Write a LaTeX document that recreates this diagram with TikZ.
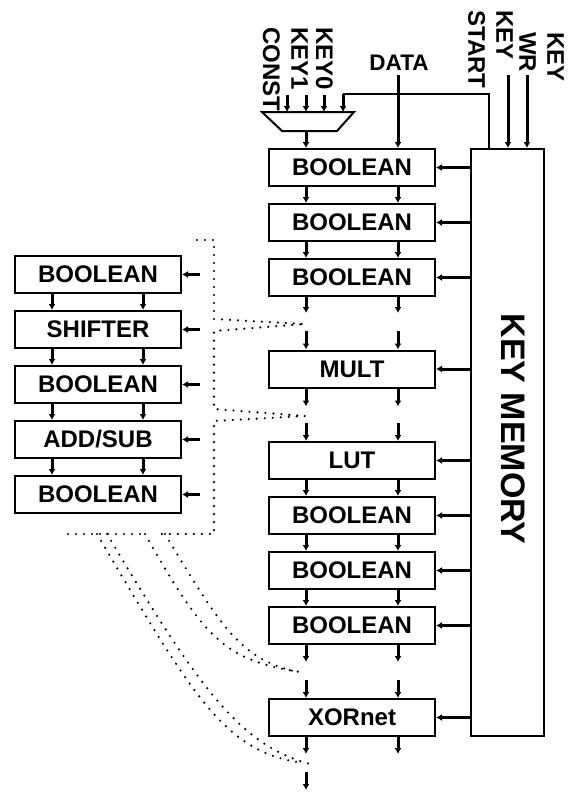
\documentclass[tikz,border=0pt]{standalone}
\usepackage{fontspec}
\setmainfont{Liberation Sans}
\usetikzlibrary{arrows.meta}
\begin{document}
\begin{tikzpicture}[x=1pt,y=-1pt,
  box/.style={draw, line width=2pt, minimum width=166pt, minimum height=37pt, inner sep=0pt,
    font=\bfseries\fontsize{24}{28}\selectfont},
  arr/.style={line width=3pt, -{Latex[length=6pt,width=7pt]}},
  thin/.style={line width=2.2pt},
  dots/.style={line width=2.4pt, line cap=round, dash pattern=on 0pt off 8pt},
  vlbl/.style={font=\bfseries\fontsize{24}{28}\selectfont, inner sep=0pt, rotate=-90,
    anchor=north west, align=left}
]
\useasboundingbox (0,0) rectangle (571,792);

% main column
\node[box] (b1) at (352,167.5) {BOOLEAN};
\node[box] (b2) at (352,222.5) {BOOLEAN};
\node[box] (b3) at (352,277.5) {BOOLEAN};
\node[box] (mult) at (352,369) {MULT};
\node[box] (lut) at (352,460.5) {LUT};
\node[box] (b4) at (352,515.5) {BOOLEAN};
\node[box] (b5) at (352,570.5) {BOOLEAN};
\node[box] (b6) at (352,625.5) {BOOLEAN};
\node[box] (xor) at (352,717.5) {XORnet};

% key memory
\node[draw, line width=2pt, minimum width=73pt, minimum height=587pt, inner sep=0pt] (km) at (507.5,442.5) {};
\node[font=\bfseries\fontsize{34}{40}\selectfont, rotate=-90, inner sep=0pt] (kmlabel) at (513.5,429) {KEY MEMORY};

% left column
\node[box] (l1) at (98,274.5) {BOOLEAN};
\node[box] (l2) at (98,329.5) {SHIFTER};
\node[box] (l3) at (98,384.5) {BOOLEAN};
\node[box] (l4) at (98,439.5) {ADD/SUB};
\node[box] (l5) at (98,494.5) {BOOLEAN};

% top labels
\node[vlbl] (lconst) at (280,27) {CONST};
\node[vlbl] (lkey1) at (308,27) {KEY1};
\node[vlbl] (lkey0) at (333,27) {KEY0};
\node[vlbl] (lkstart) at (513,10) {KEY\\START};
\node[vlbl] (lkwr) at (564,32) {KEY\\WR};
\node[font=\bfseries\fontsize{22.5}{26}\selectfont, inner sep=0pt] (ldata) at (399,62.5) {DATA};

% multiplexer
\draw[line width=2pt] (262,112) -- (354,112) -- (337,131) -- (282,131) -- cycle;
\coordinate (mi1t) at (287,95);  \coordinate (mi1) at (287,112);
\coordinate (mi2t) at (306,95);  \coordinate (mi2) at (306,112);
\coordinate (mi3t) at (324,95);  \coordinate (mi3) at (324,112);
\coordinate (mi4t) at (343,94);  \coordinate (mi4) at (343,112);
\coordinate (mout) at (306,131);
\draw[arr] (mi1t) -- (mi1);
\draw[arr] (mi2t) -- (mi2);
\draw[arr] (mi3t) -- (mi3);
\coordinate (fbtop) at (489,94);
\coordinate (kmtap) at (489,149);
\draw[thin] (kmtap) -- (fbtop) -- (mi4t);
\draw[arr] (mi4t) -- (mi4);
\draw[arr] (mout) -- ([xshift=-46pt]b1.north);

% data and key inputs
\coordinate (datat) at (398,75);
\draw[arr] (datat) -- ([xshift=46pt]b1.north);
\coordinate (kst) at (508,75);
\coordinate (kwt) at (527,75);
\draw[arr] (kst) -- (kst |- km.north);
\draw[arr] (kwt) -- (kwt |- km.north);

% key memory to blocks
\foreach \n in {b1,b2,b3,mult,lut,b4,b5,b6,xor}
  \draw[arr] (km.west |- \n.east) -- (\n.east);

% vertical flows in main column
\foreach \s in {-46,46} {
  \draw[arr] ([xshift=\s pt]b1.south) -- ([xshift=\s pt]b2.north);
  \draw[arr] ([xshift=\s pt]b2.south) -- ([xshift=\s pt]b3.north);
  \draw[arr] ([xshift=\s pt]b3.south) -- ++(0,16);
  \draw[arr] ([xshift=\s pt]mult.north) ++(0,-19) -- ([xshift=\s pt]mult.north);
  \draw[arr] ([xshift=\s pt]mult.south) -- ++(0,18);
  \draw[arr] ([xshift=\s pt]lut.north) ++(0,-18) -- ([xshift=\s pt]lut.north);
  \draw[arr] ([xshift=\s pt]lut.south) -- ([xshift=\s pt]b4.north);
  \draw[arr] ([xshift=\s pt]b4.south) -- ([xshift=\s pt]b5.north);
  \draw[arr] ([xshift=\s pt]b5.south) -- ([xshift=\s pt]b6.north);
  \draw[arr] ([xshift=\s pt]b6.south) -- ++(0,17);
  \draw[arr] ([xshift=\s pt]xor.north) ++(0,-18) -- ([xshift=\s pt]xor.north);
  \draw[arr] ([xshift=\s pt]xor.south) -- ++(0,17);
}
\coordinate (outt) at (306,772);
\coordinate (outb) at (306,790);
\draw[arr] (outt) -- (outb);

% left column flows
\foreach \s in {-46,45} {
  \draw[arr] ([xshift=\s pt]l1.south) -- ([xshift=\s pt]l2.north);
  \draw[arr] ([xshift=\s pt]l2.south) -- ([xshift=\s pt]l3.north);
  \draw[arr] ([xshift=\s pt]l3.south) -- ([xshift=\s pt]l4.north);
  \draw[arr] ([xshift=\s pt]l4.south) -- ([xshift=\s pt]l5.north);
}
\foreach \n in {l1,l2,l3,l4,l5}
  \draw[arr] ([xshift=18pt]\n.east) -- (\n.east);

% dotted expansion outline
\draw[dots] (197,240) -- (214,240) -- (214,319) -- (305,324) -- (214,331) -- (214,409)
  -- (305,416) -- (214,421) -- (214,534) -- (160,534);
\draw[dots] (68,534) -- (143,534);
\draw[dots] (97,534) .. controls (195,700) and (225,752) .. (303,763);
\draw[dots] (107,534) .. controls (200,690) and (240,745) .. (310,764);
\draw[dots] (145,534) .. controls (205,640) and (225,660) .. (300,672);
\draw[dots] (165,534) .. controls (220,625) and (240,660) .. (298,672);
\end{tikzpicture}
\end{document}
